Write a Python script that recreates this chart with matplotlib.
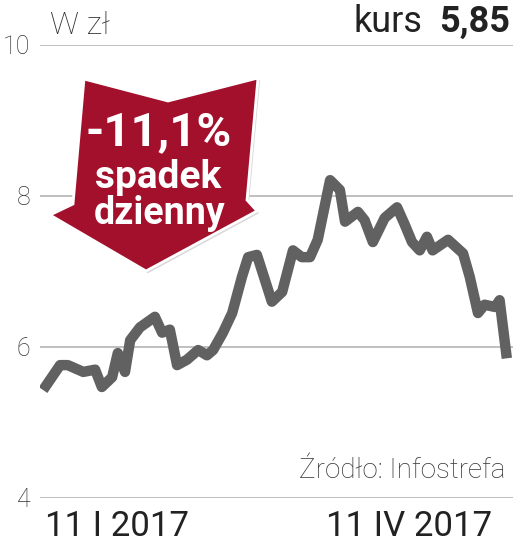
import matplotlib
matplotlib.use("Agg")
import matplotlib.pyplot as plt
from matplotlib.patches import Polygon
from matplotlib import font_manager

# kurs akcji, dni od 11 I 2017
days = [0, 3.3, 4.8, 7.8, 10.1, 11.4, 13.4, 14.5, 15.9, 16.9, 18.8, 21.7, 23.1,
        24.6, 26.0, 27.9, 30.1, 31.8, 33.0, 34.9, 36.7, 38.6, 39.8, 41.5, 44.4,
        46.4, 48.5, 50.2, 51.8, 53.3, 55.7, 57.6, 58.6, 61.1, 62.4, 64.0, 66.3,
        68.7, 70.2, 71.6, 73.1, 74.5, 75.6, 78.6, 81.5, 82.8, 84.4, 85.7, 87.7,
        88.6, 90.0]
price = [5.43, 5.76, 5.76, 5.67, 5.70, 5.47, 5.60, 5.92, 5.67, 6.09, 6.26, 6.40,
         6.19, 6.23, 5.76, 5.83, 5.96, 5.89, 5.96, 6.19, 6.45, 6.93, 7.19, 7.22,
         6.60, 6.73, 7.28, 7.19, 7.19, 7.42, 8.21, 8.08, 7.66, 7.79, 7.68, 7.39,
         7.71, 7.85, 7.62, 7.39, 7.28, 7.46, 7.28, 7.42, 7.24, 6.93, 6.45, 6.56,
         6.53, 6.62, 5.85]
y_ticks = [4, 6, 8, 10]
date_labels = ["11 I 2017", "11 IV 2017"]
last_price = "5,85"
change = "-11,1%"

names = {f.name for f in font_manager.fontManager.ttflist}
narrow = "Liberation Sans Narrow" if "Liberation Sans Narrow" in names else "Roboto"
plt.rcParams["font.family"] = [narrow, "DejaVu Sans"]

W, H = 513, 549
fig = plt.figure(figsize=(W / 100, H / 100), dpi=100)
ax = fig.add_axes([40 / W, 1 - 498 / H, 473 / W, 453 / H])
ax.set_xlim(-0.6, 91.2)
ax.set_ylim(4, 10)
for v in y_ticks:
    ax.axhline(v, color="#b4b4b4", lw=1.2, zorder=1)
    ax.text(-0.02, v - 0.03, str(v), transform=ax.get_yaxis_transform(), ha="right",
            va="center", fontsize=18, color="#333333", fontweight="light")
ax.plot(days, price, color="#616161", lw=7.5, solid_joinstyle="round",
        solid_capstyle="butt", zorder=3)
ax.axis("off")

# strzałka
px = lambda x, y: (x / W, 1 - y / H)
arrow = [px(84, 79), px(168, 101), px(258, 78), px(247, 200), px(257, 211),
         px(146, 271), px(50, 215), px(73, 204)]
shadow = [(x + 0.004, y - 0.004) for x, y in arrow]
fig.patches.append(Polygon(shadow, closed=True, transform=fig.transFigure,
                           facecolor="#d8d8d8", edgecolor="none", zorder=4))
fig.patches.append(Polygon(arrow, closed=True, transform=fig.transFigure,
                           facecolor="#a3102b", edgecolor="white", lw=2, zorder=5))
fig.text(159 / W, 1 - 132 / H, change, ha="center", va="center", color="white",
         fontsize=34, fontweight="bold", zorder=6)
fig.text(158 / W, 1 - 177 / H, "spadek", ha="center", va="center", color="white",
         fontsize=28, fontweight="bold", zorder=6)
fig.text(160 / W, 1 - 214 / H, "dzienny", ha="center", va="center", color="white",
         fontsize=27, fontweight="bold", zorder=6)

fig.text(50 / W, 1 - 25 / H, "W zł", ha="left", va="center", fontsize=23,
         color="#333333", fontweight="light")
fig.text(422 / W, 1 - 22 / H, "kurs", ha="right", va="center", fontsize=26,
         color="#222222")
fig.text(510 / W, 1 - 22 / H, last_price, ha="right", va="center", fontsize=26,
         color="#222222", fontweight="bold")
fig.text(505 / W, 1 - 470 / H, "Źródło: Infostrefa", ha="right", va="center",
         fontsize=20, color="#333333", fontweight="light")
fig.text(45 / W, 1 - 527 / H, date_labels[0], ha="left", va="center",
         fontsize=25, color="#222222")
fig.text(492 / W, 1 - 527 / H, date_labels[1], ha="right", va="center",
         fontsize=25, color="#222222")

fig.savefig("out.png", dpi=100)
